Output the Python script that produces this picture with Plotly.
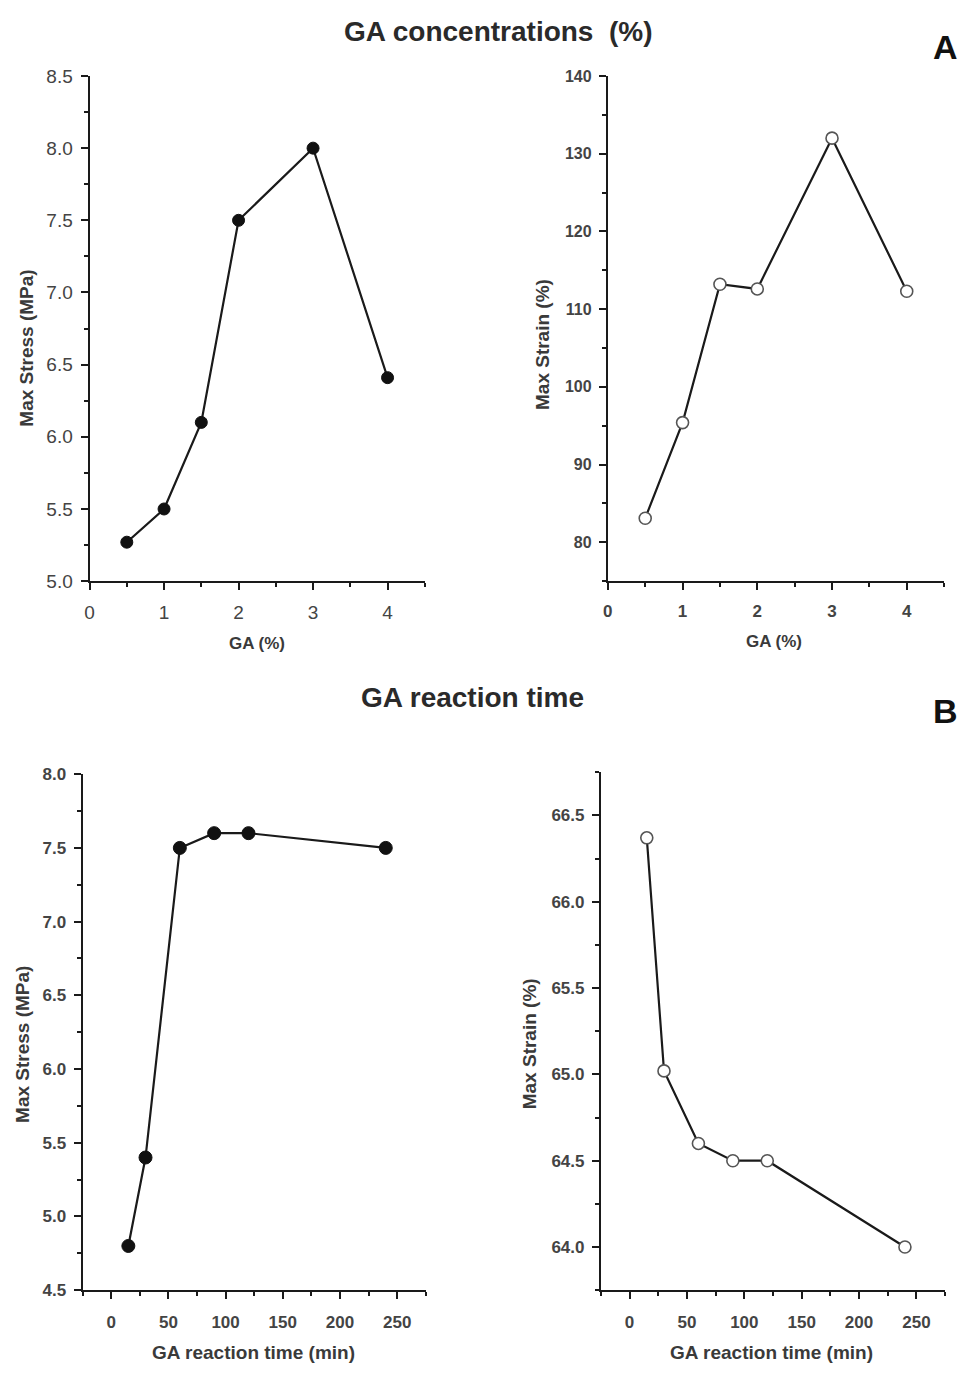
import plotly.graph_objects as go

# ---- data ----
ga_pct = [0.5, 1, 1.5, 2, 3, 4]
stress_ga = [5.27, 5.5, 6.1, 7.5, 8.0, 6.41]
strain_ga = [83.1, 95.4, 113.2, 112.6, 132.0, 112.3]

time_min = [15, 30, 60, 90, 120, 240]
stress_time = [4.8, 5.4, 7.5, 7.6, 7.6, 7.5]
strain_time = [66.37, 65.02, 64.6, 64.5, 64.5, 64.0]

W, H = 964, 1379
FONT = "Liberation Sans, Arial, sans-serif"
LINE = "#1a1a1a"
TXT = "#3a3a3a"


def px(x):
    return x / W


def py(y):
    return 1 - y / H


fig = go.Figure()

filled = dict(symbol="circle", size=12, color="#111111", line=dict(color="#111111", width=1))
opened = dict(symbol="circle", size=12, color="white", line=dict(color="#555555", width=1.6))

fig.add_trace(go.Scatter(x=ga_pct, y=stress_ga, mode="lines+markers", xaxis="x", yaxis="y",
                         line=dict(color=LINE, width=2.2), marker=filled, showlegend=False))
fig.add_trace(go.Scatter(x=ga_pct, y=strain_ga, mode="lines+markers", xaxis="x2", yaxis="y2",
                         line=dict(color=LINE, width=2.2), marker=opened, showlegend=False))
fig.add_trace(go.Scatter(x=time_min, y=stress_time, mode="lines+markers", xaxis="x3", yaxis="y3",
                         line=dict(color=LINE, width=2.2), marker=dict(filled, size=13), showlegend=False))
fig.add_trace(go.Scatter(x=time_min, y=strain_time, mode="lines+markers", xaxis="x4", yaxis="y4",
                         line=dict(color=LINE, width=2.2), marker=opened, showlegend=False))


def axis(domain, rng, dtick, minor_dtick, anchor, tick0=0, bold=False, size=17, standoff=4):
    return dict(
        domain=domain, range=rng, anchor=anchor,
        showline=True, linecolor=LINE, linewidth=2, mirror=False,
        showgrid=False, zeroline=False,
        ticks="outside", ticklen=7, tickwidth=2, tickcolor=LINE,
        tick0=tick0, dtick=dtick,
        minor=dict(ticks="outside", ticklen=4, tickwidth=2, tickcolor=LINE, dtick=minor_dtick, tick0=tick0,
                   showgrid=False),
        tickfont=dict(family=FONT, size=size, color="#444444", weight="bold" if bold else "normal"),
        ticklabelstandoff=standoff,
        fixedrange=True,
    )


# A-left
xa1 = axis([px(85), px(422)], [0, 4.5], 1, 0.5, "y", size=19, standoff=6)
ya1 = axis([py(580), py(67)], [5.0, 8.5], 0.5, 0.25, "x", tick0=5.0, size=19, standoff=4)
ya1["tickformat"] = ".1f"
# A-right
xa2 = axis([px(606), px(944)], [0, 4.5], 1, 0.5, "y2", bold=True, size=17, standoff=6)
ya2 = axis([py(580), py(67)], [75, 140], 10, 5, "x2", tick0=80, bold=True, size=16, standoff=4)
# B-left
xa3 = axis([px(78), px(423)], [-25, 275], 50, 25, "y3", bold=True, size=17, standoff=8)
ya3 = axis([py(1300), py(776)], [4.5, 8.0], 0.5, 0.25, "x3", tick0=4.5, bold=True, size=17, standoff=4)
ya3["tickformat"] = ".1f"
# B-right
xa4 = axis([px(599), px(945)], [-25, 275], 50, 25, "y4", bold=True, size=17, standoff=8)
ya4 = axis([py(1300), py(774)], [63.75, 66.75], 0.5, 0.25, "x4", tick0=64.0, bold=True, size=17, standoff=4)
ya4["tickformat"] = ".1f"

fig.update_layout(
    width=W, height=H,
    margin=dict(l=0, r=0, t=0, b=0),
    paper_bgcolor="white", plot_bgcolor="white",
    xaxis=xa1, yaxis=ya1,
    xaxis2=xa2, yaxis2=ya2,
    xaxis3=xa3, yaxis3=ya3,
    xaxis4=xa4, yaxis4=ya4,
    showlegend=False,
)


def note(text, x, y, size, angle=0, color=TXT, bold=True):
    fig.add_annotation(text=text, x=px(x), y=py(y), xref="paper", yref="paper",
                       showarrow=False, xanchor="center", yanchor="middle", textangle=angle,
                       font=dict(family=FONT, size=size, color=color, weight="bold" if bold else "normal"))


# panel titles
note("GA concentrations  (%)", 496, 22, 28, color="#2a2a2a")
note("A", 945, 38, 34, color="#111111")
note("GA reaction time", 470, 698, 28, color="#2a2a2a")
note("B", 945, 712, 34, color="#111111")

# axis titles
note("Max Stress (MPa)", 22, 343, 19, angle=-90)
note("GA (%)", 253, 643, 17)
note("Max Strain (%)", 541, 340, 19, angle=-90)
note("GA (%)", 773, 641, 17)
note("Max Stress (MPa)", 17, 1050, 19, angle=-90)
note("GA reaction time (min)", 250, 1363, 19)
note("Max Strain (%)", 527, 1050, 19, angle=-90)
note("GA reaction time (min)", 770, 1363, 19)

fig.write_html("out.html")
